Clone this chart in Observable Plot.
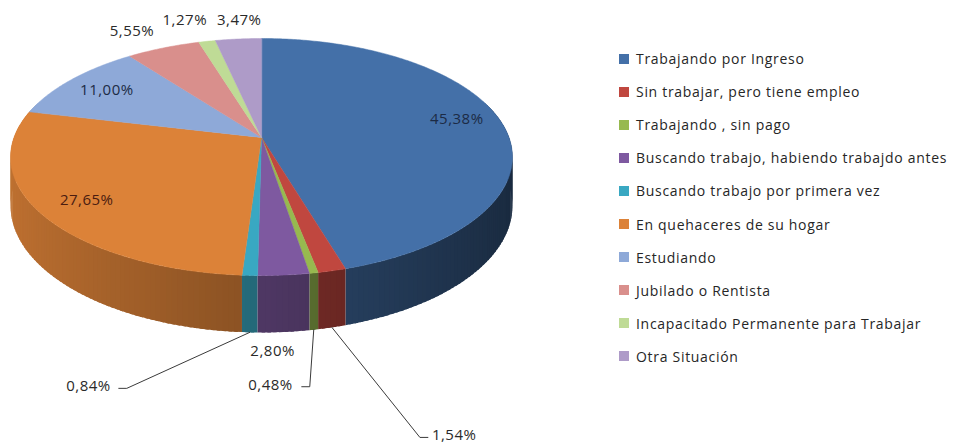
<!DOCTYPE html>
<html><head><meta charset="utf-8">
<script src="https://cdn.jsdelivr.net/npm/d3@7"></script>
<script src="https://cdn.jsdelivr.net/npm/@observablehq/plot@0.6"></script>
<style>
body{margin:0;background:#fff;font-family:"Open Sans",sans-serif;}
#wrap{position:relative;width:959px;height:444px;overflow:hidden;}
#chart{position:absolute;left:0;top:0;}
#legend{position:absolute;left:619px;top:42px;}
.row{display:flex;align-items:center;height:33.1px;font-size:14px;color:#262626;letter-spacing:0.7px;white-space:nowrap;}
.sw{width:10px;height:10px;margin-right:7px;flex:none;}
#chart svg text{letter-spacing:0.5px;}
</style></head><body>
<div id="wrap"><div id="chart"></div><div id="legend"></div></div>
<script>
// ---- data ----
const categories = [
  "Trabajando por Ingreso",
  "Sin trabajar, pero tiene empleo",
  "Trabajando , sin pago",
  "Buscando trabajo, habiendo trabajdo antes",
  "Buscando trabajo por primera vez",
  "En quehaceres de su hogar",
  "Estudiando",
  "Jubilado o Rentista",
  "Incapacitado Permanente para Trabajar",
  "Otra Situación"
];
const values = [45.38, 1.54, 0.48, 2.80, 0.84, 27.65, 11.00, 5.55, 1.27, 3.47];
const colors = ["#4470A8","#C0473F","#97B94F","#7E59A0","#39A8C2","#DC8238","#8EA9D8","#D98F8C","#BFDB96","#AE9BC8"];

// ---- layout (how each label is placed) ----
const labelKind = ["inside","callout","callout","below","callout","inside","inside","outside","outside","outside"];
const labelInk  = ["#1c2b45","#2a2a2a","#2a2a2a","#2a2a2a","#2a2a2a","#4a1c10","#1c2b45","#2a2a2a","#2a2a2a","#2a2a2a"];
const calloutElbow = {1:[88,110], 2:[-4,57], 3:[-11,19], 4:[-123,56]};
const calloutGap = {1:4, 2:9, 4:8};
const labelNudge = {0:[3,-5], 5:[-2,3], 7:[-9,4], 8:[-10,0], 9:[6,3]};

// ---- 3D projection of the pie ----
const W = 600, H = 444;
const cx = 261, cy = 137, C = 247.5, B = 115.3, K = -0.1646, DEPTH = 47.6;
function proj(r, a, depth = 0) {
  const u = r * Math.sin(a), v = -r * Math.cos(a), s = 1 + K * v;
  return [cx + C * u / s, cy + B * v / s + depth / s];
}

const arcs = d3.pie().sort(null).value(d => d)(values);

// walls (strips, back to front, slightly overlapping)
const strips = [];
arcs.forEach((p, i) => {
  const n = Math.max(1, Math.ceil((p.endAngle - p.startAngle) / 0.02));
  for (let j = 0; j < n; j++) {
    const a1 = p.startAngle + (p.endAngle - p.startAngle) * j / n;
    const a2 = p.startAngle + (p.endAngle - p.startAngle) * (j + 1) / n;
    const am = (a1 + a2) / 2;
    const v = -Math.cos(am);
    if (v < -0.3) continue;
    const f = 0.62 - 0.25 * Math.sin(am);
    const c = d3.rgb(colors[i]);
    const col = d3.rgb(c.r * f, c.g * f, c.b * f).formatHex();
    const lo = a1 - (j > 0 ? 0.006 : 0), hi = a2 + (j < n - 1 ? 0.006 : 0);
    strips.push({v, col, pts: [proj(1, lo), proj(1, hi), proj(1, hi, DEPTH), proj(1, lo, DEPTH)]});
  }
});
strips.sort((a, b) => a.v - b.v);
const wallRows = [];
strips.forEach((s, k) => s.pts.forEach(([x, y]) => wallRows.push({id: "w" + k, x, y, col: s.col})));

// top faces
const topRows = [];
arcs.forEach((p, i) => {
  topRows.push({id: "t" + i, x: cx, y: cy, col: colors[i]});
  const n = Math.max(2, Math.ceil((p.endAngle - p.startAngle) / 0.01));
  for (let j = 0; j <= n; j++) {
    const a = p.startAngle + (p.endAngle - p.startAngle) * j / n;
    const [x, y] = proj(1, a);
    topRows.push({id: "t" + i, x, y, col: colors[i]});
  }
});

// labels
const fmt = v => v.toFixed(2).replace(".", ",") + "%";
const labStart = [], labMid = [], labEnd = [], leader = [];
arcs.forEach((p, i) => {
  const am = (p.startAngle + p.endAngle) / 2;
  const text = fmt(values[i]);
  const kind = labelKind[i];
  const [nx, ny] = labelNudge[i] || [0, 0];
  if (kind === "inside") {
    const [x, y] = proj(0.8, am);
    labMid.push({x: x + nx, y: y + ny, text, ink: labelInk[i]});
  } else if (kind === "outside") {
    const [x, y] = proj(1.27, am);
    labMid.push({x: x + nx, y: y + ny, text, ink: labelInk[i]});
  } else if (kind === "below") {
    const [x0, y0] = proj(1, am, DEPTH);
    labMid.push({x: x0 + calloutElbow[i][0], y: y0 + calloutElbow[i][1], text, ink: labelInk[i]});
  } else {
    const [x0, y0] = proj(1, am, DEPTH);
    const [dx, dy] = calloutElbow[i];
    const ex = x0 + dx, ey = y0 + dy, sgn = dx >= 0 ? 1 : -1;
    const tx = ex + sgn * 8;
    leader.push({id: i, x: x0, y: y0}, {id: i, x: ex, y: ey}, {id: i, x: tx, y: ey});
    const lab = {x: tx + sgn * calloutGap[i], y: ey - 2, text, ink: labelInk[i]};
    (sgn > 0 ? labStart : labEnd).push(lab);
  }
});

const font = {fontSize: 15, fontFamily: "'Open Sans', sans-serif"};
const chart = Plot.plot({
  width: W, height: H,
  margin: 0,
  x: {domain: [0, W], range: [0, W], axis: null},
  y: {domain: [0, H], range: [0, H], axis: null},
  color: {type: "identity"},
  marks: [
    Plot.line(wallRows, {x: "x", y: "y", z: "id", fill: "col", stroke: "none", curve: "linear-closed"}),
    Plot.line(topRows, {x: "x", y: "y", z: "id", fill: "col", stroke: "col", strokeWidth: 0.5, curve: "linear-closed"}),
    Plot.line(leader, {x: "x", y: "y", z: "id", stroke: "#3a3a3a", strokeWidth: 1}),
    Plot.text(labMid, {x: "x", y: "y", text: "text", fill: "ink", textAnchor: "middle", ...font}),
    Plot.text(labStart, {x: "x", y: "y", text: "text", fill: "ink", textAnchor: "start", ...font}),
    Plot.text(labEnd, {x: "x", y: "y", text: "text", fill: "ink", textAnchor: "end", ...font})
  ]
});
document.getElementById("chart").appendChild(chart);

// legend
const leg = document.getElementById("legend");
categories.forEach((c, i) => {
  const row = document.createElement("div");
  row.className = "row";
  const sw = document.createElement("span");
  sw.className = "sw";
  sw.style.background = colors[i];
  const t = document.createElement("span");
  t.textContent = c;
  row.append(sw, t);
  leg.appendChild(row);
});
</script>
</body></html>
